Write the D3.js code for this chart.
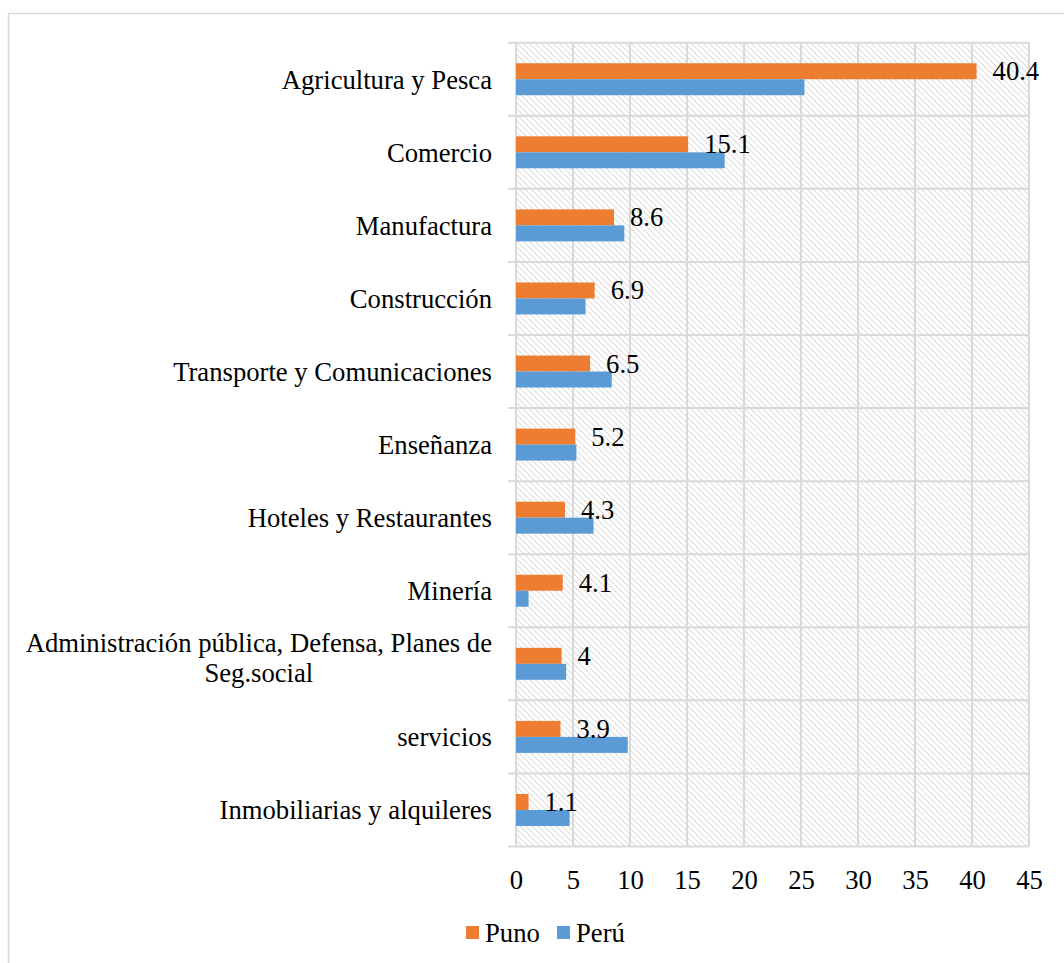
<!DOCTYPE html>
<html>
<head>
<meta charset="utf-8">
<script src="https://cdn.jsdelivr.net/npm/d3@7"></script>
<style>
  html, body { margin: 0; padding: 0; background: #fff; }
  svg { display: block; }
  text { font-family: "Liberation Serif", "Times New Roman", serif; fill: #000; }
</style>
</head>
<body>
<svg id="chart" width="1064" height="963"></svg>
<script>
const categories = [
  "Agricultura y Pesca",
  "Comercio",
  "Manufactura",
  "Construcción",
  "Transporte y Comunicaciones",
  "Enseñanza",
  "Hoteles y Restaurantes",
  "Minería",
  "Administración pública, Defensa, Planes de|Seg.social",
  "servicios",
  "Inmobiliarias y alquileres"
];
const seriesNames = ["Puno", "Perú"];
const punoValues = [40.4, 15.1, 8.6, 6.9, 6.5, 5.2, 4.3, 4.1, 4, 3.9, 1.1];
const peruValues = [25.3, 18.3, 9.5, 6.1, 8.4, 5.3, 6.8, 1.1, 4.4, 9.8, 4.7];
const xTicks = [0, 5, 10, 15, 20, 25, 30, 35, 40, 45];
const colors = ["#ED7D31", "#5B9BD5"];

const svg = d3.select("#chart");
const FS = 26.67;
const grid = "#d9d9d9";

// chart border
svg.append("rect").attr("x", 8.5).attr("y", 13.5).attr("width", 1100).attr("height", 1000)
  .attr("fill", "#fff").attr("stroke", grid).attr("stroke-width", 1.5);

const defs = svg.append("defs");
const pat = defs.append("pattern").attr("id", "hatch")
  .attr("patternUnits", "userSpaceOnUse").attr("width", 6).attr("height", 6);
pat.append("rect").attr("width", 6).attr("height", 6).attr("fill", "#fff");
pat.append("path").attr("d", "M0,0 L6,6 M-3,3 L0,6 M3,-3 L6,0")
  .attr("stroke", "#dedede").attr("stroke-width", 1.1);

const plot = { left: 516, right: 1029, top: 42.7, bottom: 846.5 };

const x = d3.scaleLinear().domain([0, 45]).range([plot.left, plot.right]);
const y = d3.scaleBand().domain(d3.range(categories.length)).range([plot.top, plot.bottom]).padding(0);
const ySub = d3.scaleBand().domain([0, 1]).range([0, y.bandwidth()]).paddingInner(0).paddingOuter(1.286);

// hatched plot background
svg.append("rect").attr("x", plot.left).attr("y", plot.top)
  .attr("width", plot.right - plot.left).attr("height", plot.bottom - plot.top)
  .attr("fill", "url(#hatch)");

// vertical gridlines
svg.append("g").selectAll("line").data(xTicks).join("line")
  .attr("x1", d => x(d)).attr("x2", d => x(d))
  .attr("y1", plot.top).attr("y2", plot.bottom)
  .attr("stroke", grid).attr("stroke-width", 2);

// horizontal category separators (with outside tick)
const bounds = d3.range(categories.length + 1).map(i => plot.top + i * y.step());
svg.append("g").selectAll("line").data(bounds).join("line")
  .attr("x1", plot.left - 8).attr("x2", plot.right)
  .attr("y1", d => d).attr("y2", d => d)
  .attr("stroke", grid).attr("stroke-width", 2);

// x axis tick labels
const xAxis = d3.axisBottom(x).tickValues(xTicks).tickSize(0).tickPadding(0).tickFormat(d3.format("d"));
const gx = svg.append("g").attr("transform", `translate(0,${plot.bottom + 33})`).call(xAxis);
gx.select(".domain").remove();
gx.selectAll("text").attr("font-size", FS).attr("font-family", "Liberation Serif").attr("fill", "#000").attr("dy", "0.35em");

// category labels
const labG = svg.append("g");
categories.forEach((c, i) => {
  const cy = y(i) + y.bandwidth() / 2;
  const parts = c.split("|");
  if (parts.length === 1) {
    labG.append("text").attr("x", 492).attr("y", cy).attr("dy", "0.35em")
      .attr("text-anchor", "end").attr("font-size", FS).text(c);
  } else {
    const t1 = labG.append("text").attr("x", 492).attr("y", cy - 12)
      .attr("text-anchor", "end").attr("font-size", FS).text(parts[0]);
    const w = t1.node().getComputedTextLength();
    labG.append("text").attr("x", 492 - w / 2).attr("y", cy + 18)
      .attr("text-anchor", "middle").attr("font-size", FS).text(parts[1]);
  }
});

// bars
const seriesVals = [punoValues, peruValues];
seriesVals.forEach((vals, s) => {
  svg.append("g").selectAll("rect").data(vals).join("rect")
    .attr("x", x(0))
    .attr("y", (d, i) => y(i) + ySub(s))
    .attr("width", d => x(d) - x(0))
    .attr("height", ySub.bandwidth())
    .attr("fill", colors[s]);
});

// data labels (Puno)
svg.append("g").selectAll("text").data(punoValues).join("text")
  .attr("x", d => x(d) + 16)
  .attr("y", (d, i) => y(i) + ySub(0) + ySub.bandwidth() / 2)
  .attr("dominant-baseline", "central")
  .attr("font-size", FS)
  .text(d => String(d));

// legend
const legend = svg.append("g");
const legX = [466, 557];
seriesNames.forEach((n, s) => {
  legend.append("rect").attr("x", legX[s]).attr("y", 926).attr("width", 13).attr("height", 13).attr("fill", colors[s]);
  legend.append("text").attr("x", legX[s] + 19).attr("y", 933).attr("dy", "0.35em")
    .attr("font-size", FS).text(n);
});
</script>
</body>
</html>
